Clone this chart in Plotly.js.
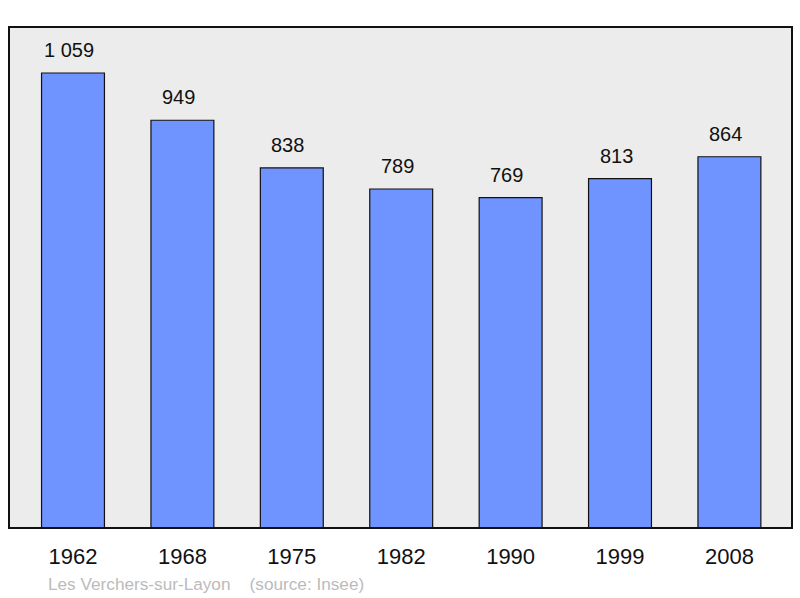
<!DOCTYPE html>
<html>
<head>
<meta charset="utf-8">
<script src="https://cdn.plot.ly/plotly-3.0.1.min.js"></script>
<style>html,body{margin:0;padding:0;background:#fff;}#chart{width:800px;height:598px;}</style>
</head>
<body>
<div id="chart"></div>
<script>
const years = ["1962", "1968", "1975", "1982", "1990", "1999", "2008"];
const population = [1059, 949, 838, 789, 769, 813, 864];
const valueLabels = ["1 059", "949", "838", "789", "769", "813", "864"];
const footerText = "Les Verchers-sur-Layon    (source: Insee)";

const trace = {
  type: "bar",
  x: years,
  y: population,
  width: 0.575,
  marker: { color: "#7094ff", line: { color: "#111", width: 1.2 } },
  hoverinfo: "none"
};

const annotations = years.map((yr, i) => ({
  x: i, y: population[i], xref: "x", yref: "y",
  text: valueLabels[i], showarrow: false,
  xanchor: "center", yanchor: "bottom", yshift: 10, xshift: -4,
  font: { family: "Liberation Sans, Arial, sans-serif", size: 20, color: "#111" }
}));
annotations.push({
  x: 0.0467, y: -0.112, xref: "paper", yref: "paper",
  xanchor: "left", yanchor: "middle", showarrow: false,
  text: footerText.replace(/ {2,}/g, m => "&nbsp;".repeat(m.length)),
  font: { family: "Liberation Sans, Arial, sans-serif", size: 17.2, color: "#bbbbbb" }
});

const layout = {
  width: 800, height: 598,
  margin: { l: 9, r: 8, t: 27, b: 70 },
  paper_bgcolor: "#ffffff",
  plot_bgcolor: "#ececec",
  showlegend: false,
  xaxis: {
    type: "category",
    range: [-0.585, 6.572],
    showgrid: false, zeroline: false, showline: false,
    ticks: "", ticklabelstandoff: 13,
    tickfont: { family: "Liberation Sans, Arial, sans-serif", size: 22, color: "#111" },
    fixedrange: true
  },
  yaxis: {
    range: [0, 1166],
    showgrid: false, zeroline: false, showline: false,
    showticklabels: false, ticks: "",
    fixedrange: true
  },
  shapes: [{
    type: "rect", xref: "paper", yref: "paper",
    x0: 0, x1: 1, y0: 0, y1: 1,
    line: { color: "#111", width: 2 },
    fillcolor: "rgba(0,0,0,0)",
    layer: "above"
  }],
  annotations: annotations
};

Plotly.newPlot("chart", [trace], layout, { displayModeBar: false, staticPlot: true });
</script>
</body>
</html>
